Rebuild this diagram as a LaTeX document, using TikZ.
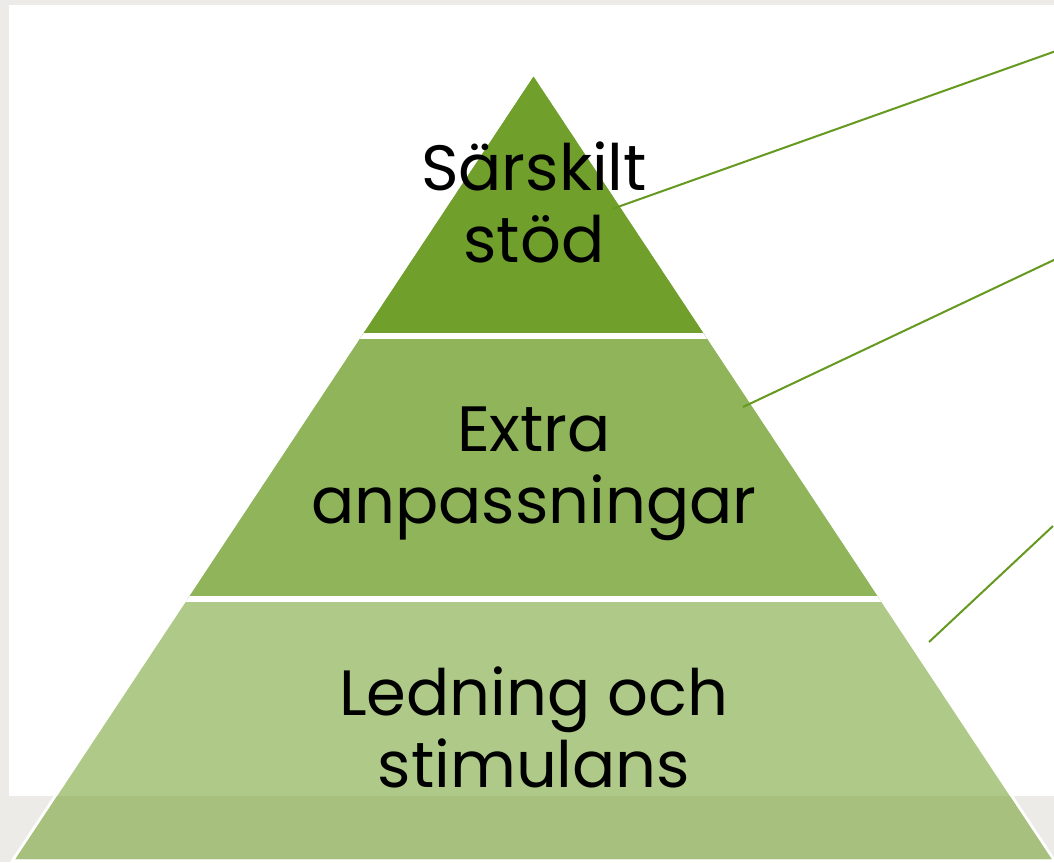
\documentclass[tikz,border=0pt]{standalone}
\usepackage{fontspec}
\setmainfont{Poppins}
\definecolor{bggrey}{HTML}{ECEBE8}
\definecolor{topc}{HTML}{709F2B}
\definecolor{midc}{HTML}{8FB45A}
\definecolor{botc}{HTML}{AFCA88}
\definecolor{footc}{HTML}{A7C07D}
\definecolor{linec}{HTML}{65991F}
\tikzset{
  label/.style={align=center, text=black, font=\fontsize{64}{72}\selectfont, inner sep=0pt, anchor=base},
  leader/.style={draw=linec, line width=2pt},
}
\begin{document}
\begin{tikzpicture}[x=1pt,y=-1pt]
\useasboundingbox (0,0) rectangle (1054,862);
\fill[bggrey] (0,0) rectangle (1054,862);
\fill[white] (9,5) rectangle (1060,796);
\coordinate (A) at (533.5,76.7);
\coordinate (BL) at (15.5,859);
\coordinate (BR) at (1051.5,859);
\draw[white, line width=6pt, line join=miter] (A) -- (BL) -- (BR) -- cycle;
\fill[botc] (A) -- (BL) -- (BR) -- cycle;
\begin{scope}
  \clip (A) -- (BL) -- (BR) -- cycle;
  \fill[midc] (0,0) rectangle (1060,599);
  \fill[topc] (0,0) rectangle (1060,335.7);
  \fill[footc] (0,796) rectangle (1060,862);
  \fill[white] (0,332.7) rectangle (1060,338.7);
  \fill[white] (0,596) rectangle (1060,601.7);
\end{scope}
\coordinate (t1) at (612,209);
\coordinate (e1) at (1056,51);
\coordinate (t2) at (743,407);
\coordinate (e2) at (1056,259);
\coordinate (t3) at (929,642);
\coordinate (e3) at (1053,526);
\draw[leader] (t1) -- (e1);
\draw[leader] (t2) -- (e2);
\draw[leader] (t3) -- (e3);
\node[label] (top) at (534,262) {Särskilt\\stöd};
\node[label] (mid) at (534,523) {Extra\\anpassningar};
\node[label] (bot) at (534,787) {Ledning och\\stimulans};
\end{tikzpicture}
\end{document}
